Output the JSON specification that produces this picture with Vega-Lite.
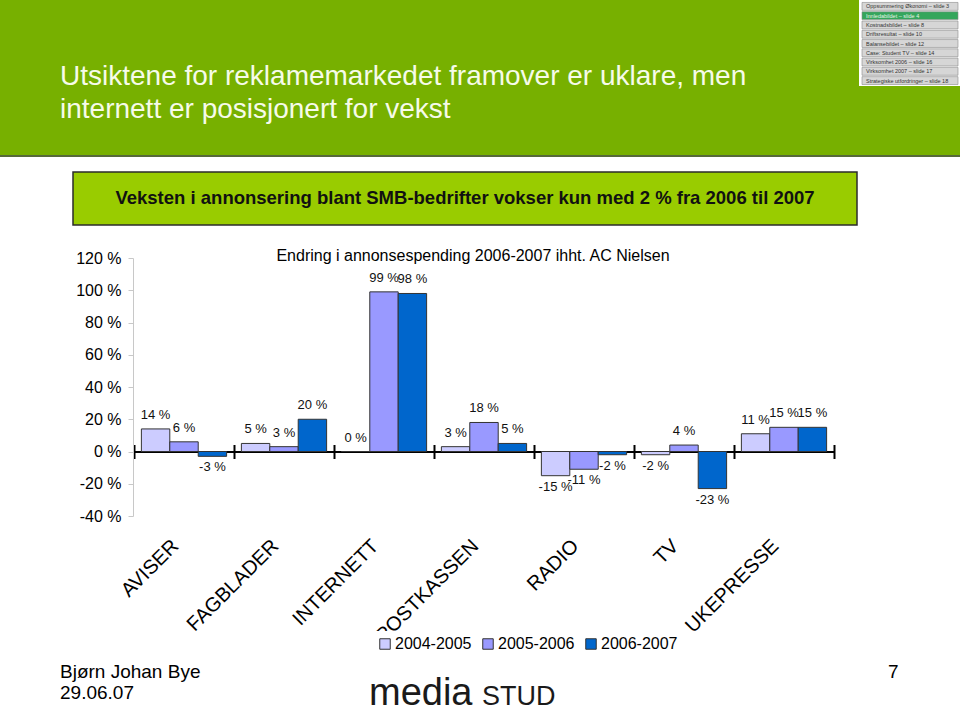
{
 "$schema": "https://vega.github.io/schema/vega-lite/v6.json",
 "width": 960,
 "height": 720,
 "autosize": {"type": "none"},
 "padding": 0,
 "background": "#ffffff",
 "config": {"view": {"stroke": null}, "font": "Liberation Sans"},
 "resolve": {"scale": {"x": "independent", "y": "independent"}},
 "layer": [
  {
   "data": {"values": [{}]},
   "layer": [
    {"mark": {"type": "rect", "fill": "#77b000"},
     "encoding": {"x": {"datum": 0, "type": "quantitative", "scale": {"domain": [0, 960], "range": [0, 960], "nice": false, "zero": false}, "axis": null}, "x2": {"datum": 960},
                  "y": {"datum": 0, "type": "quantitative", "scale": {"domain": [0, 720], "range": [0, 720], "nice": false, "zero": false}, "axis": null}, "y2": {"datum": 155}}},
    {"mark": {"type": "rect", "fill": "#56693a"},
     "encoding": {"x": {"datum": 0, "type": "quantitative", "scale": {"domain": [0, 960], "range": [0, 960], "nice": false, "zero": false}, "axis": null}, "x2": {"datum": 960},
                  "y": {"datum": 155, "type": "quantitative", "scale": {"domain": [0, 720], "range": [0, 720], "nice": false, "zero": false}, "axis": null}, "y2": {"datum": 157}}},
    {"mark": {"type": "rect", "fill": "#ffffff"},
     "encoding": {"x": {"datum": 859, "type": "quantitative", "scale": {"domain": [0, 960], "range": [0, 960], "nice": false, "zero": false}, "axis": null}, "x2": {"datum": 960},
                  "y": {"datum": 0, "type": "quantitative", "scale": {"domain": [0, 720], "range": [0, 720], "nice": false, "zero": false}, "axis": null}, "y2": {"datum": 86}}},
    {"mark": {"type": "text", "text": ["Utsiktene for reklamemarkedet framover er uklare, men", "internett er posisjonert for vekst"], "fontSize": 28, "lineHeight": 33, "align": "left", "baseline": "alphabetic", "fill": "#f6fbe9"},
     "encoding": {"x": {"datum": 60, "type": "quantitative", "scale": {"domain": [0, 960], "range": [0, 960], "nice": false, "zero": false}, "axis": null},
                  "y": {"datum": 85, "type": "quantitative", "scale": {"domain": [0, 720], "range": [0, 720], "nice": false, "zero": false}, "axis": null}}},
    {"mark": {"type": "rect", "fill": "#99cc00", "stroke": "#2b2b2b", "strokeWidth": 1.5},
     "encoding": {"x": {"datum": 73, "type": "quantitative", "scale": {"domain": [0, 960], "range": [0, 960], "nice": false, "zero": false}, "axis": null}, "x2": {"datum": 857},
                  "y": {"datum": 172, "type": "quantitative", "scale": {"domain": [0, 720], "range": [0, 720], "nice": false, "zero": false}, "axis": null}, "y2": {"datum": 225}}},
    {"mark": {"type": "text", "text": "Veksten i annonsering blant SMB-bedrifter vokser kun med 2 % fra 2006 til 2007", "fontSize": 18.5, "fontWeight": "bold", "align": "center", "baseline": "middle", "fill": "#111111"},
     "encoding": {"x": {"datum": 465, "type": "quantitative", "scale": {"domain": [0, 960], "range": [0, 960], "nice": false, "zero": false}, "axis": null},
                  "y": {"datum": 198, "type": "quantitative", "scale": {"domain": [0, 720], "range": [0, 720], "nice": false, "zero": false}, "axis": null}}},
    {"mark": {"type": "text", "text": "Endring i annonsespending 2006-2007 ihht. AC Nielsen", "fontSize": 16, "align": "center", "baseline": "middle", "fill": "#000000"},
     "encoding": {"x": {"datum": 473, "type": "quantitative", "scale": {"domain": [0, 960], "range": [0, 960], "nice": false, "zero": false}, "axis": null},
                  "y": {"datum": 256, "type": "quantitative", "scale": {"domain": [0, 720], "range": [0, 720], "nice": false, "zero": false}, "axis": null}}},
    {"mark": {"type": "text", "text": ["Bjørn Johan Bye", "29.06.07"], "fontSize": 19, "lineHeight": 21, "align": "left", "baseline": "middle", "fill": "#000000"},
     "encoding": {"x": {"datum": 60, "type": "quantitative", "scale": {"domain": [0, 960], "range": [0, 960], "nice": false, "zero": false}, "axis": null},
                  "y": {"datum": 672, "type": "quantitative", "scale": {"domain": [0, 720], "range": [0, 720], "nice": false, "zero": false}, "axis": null}}},
    {"mark": {"type": "text", "text": "7", "fontSize": 19, "align": "left", "baseline": "middle", "fill": "#000000"},
     "encoding": {"x": {"datum": 888, "type": "quantitative", "scale": {"domain": [0, 960], "range": [0, 960], "nice": false, "zero": false}, "axis": null},
                  "y": {"datum": 672, "type": "quantitative", "scale": {"domain": [0, 720], "range": [0, 720], "nice": false, "zero": false}, "axis": null}}},
    {"mark": {"type": "text", "text": "media", "fontSize": 38, "align": "left", "baseline": "alphabetic", "fill": "#1a1a1a"},
     "encoding": {"x": {"datum": 369, "type": "quantitative", "scale": {"domain": [0, 960], "range": [0, 960], "nice": false, "zero": false}, "axis": null},
                  "y": {"datum": 705, "type": "quantitative", "scale": {"domain": [0, 720], "range": [0, 720], "nice": false, "zero": false}, "axis": null}}},
    {"mark": {"type": "text", "text": "STUD", "fontSize": 27, "align": "left", "baseline": "alphabetic", "fill": "#1a1a1a"},
     "encoding": {"x": {"datum": 482, "type": "quantitative", "scale": {"domain": [0, 960], "range": [0, 960], "nice": false, "zero": false}, "axis": null},
                  "y": {"datum": 705, "type": "quantitative", "scale": {"domain": [0, 720], "range": [0, 720], "nice": false, "zero": false}, "axis": null}}}
   ]
  },
  {
   "data": {"values": [
    {"item": "Oppsummering Økonomi – slide 3", "active": false},
    {"item": "Innledabildet – slide 4", "active": true},
    {"item": "Kostnadsbildet – slide 8", "active": false},
    {"item": "Driftsresultat – slide 10", "active": false},
    {"item": "Balansebildet – slide 12", "active": false},
    {"item": "Case: Student TV – slide 14", "active": false},
    {"item": "Virksomhet 2006 – slide 16", "active": false},
    {"item": "Virksomhet 2007 – slide 17", "active": false},
    {"item": "Strategiske utfordringer – slide 18", "active": false}
   ]},
   "layer": [
    {"mark": {"type": "bar", "stroke": "#8a8a8a", "strokeWidth": 0.6},
     "encoding": {
      "y": {"field": "item", "type": "nominal", "sort": null, "scale": {"range": [2, 85], "paddingInner": 0.15, "paddingOuter": 0.05}, "axis": null},
      "x": {"datum": 862, "type": "quantitative", "scale": {"domain": [0, 960], "range": [0, 960], "nice": false, "zero": false}, "axis": null}, "x2": {"datum": 958},
      "fill": {"condition": {"test": "datum.active", "value": "#35a65c"}, "value": "#d6d6d6"}}},
    {"mark": {"type": "text", "align": "left", "baseline": "middle", "fontSize": 5.5},
     "encoding": {
      "y": {"field": "item", "type": "nominal", "sort": null, "scale": {"range": [2, 85], "paddingInner": 0.15, "paddingOuter": 0.05}, "axis": null},
      "x": {"datum": 866, "type": "quantitative", "scale": {"domain": [0, 960], "range": [0, 960], "nice": false, "zero": false}, "axis": null},
      "text": {"field": "item"},
      "fill": {"condition": {"test": "datum.active", "value": "#e8f5e8"}, "value": "#333333"}}}
   ]
  },
  {
   "data": {"values": [
    {"cat": "AVISER", "series": "2004-2005", "v": 14},
    {"cat": "AVISER", "series": "2005-2006", "v": 6},
    {"cat": "AVISER", "series": "2006-2007", "v": -3},
    {"cat": "FAGBLADER", "series": "2004-2005", "v": 5},
    {"cat": "FAGBLADER", "series": "2005-2006", "v": 3},
    {"cat": "FAGBLADER", "series": "2006-2007", "v": 20},
    {"cat": "INTERNETT", "series": "2004-2005", "v": 0},
    {"cat": "INTERNETT", "series": "2005-2006", "v": 99},
    {"cat": "INTERNETT", "series": "2006-2007", "v": 98},
    {"cat": "POSTKASSEN", "series": "2004-2005", "v": 3},
    {"cat": "POSTKASSEN", "series": "2005-2006", "v": 18},
    {"cat": "POSTKASSEN", "series": "2006-2007", "v": 5},
    {"cat": "RADIO", "series": "2004-2005", "v": -15},
    {"cat": "RADIO", "series": "2005-2006", "v": -11},
    {"cat": "RADIO", "series": "2006-2007", "v": -2},
    {"cat": "TV", "series": "2004-2005", "v": -2},
    {"cat": "TV", "series": "2005-2006", "v": 4},
    {"cat": "TV", "series": "2006-2007", "v": -23},
    {"cat": "UKEPRESSE", "series": "2004-2005", "v": 11},
    {"cat": "UKEPRESSE", "series": "2005-2006", "v": 15},
    {"cat": "UKEPRESSE", "series": "2006-2007", "v": 15}
   ]},
   "resolve": {"axis": {"x": "independent"}},
   "encoding": {
    "xOffset": {"field": "series", "type": "nominal", "sort": null, "scale": {"paddingInner": 0, "paddingOuter": 0.26}},
    "y": {"field": "v", "type": "quantitative",
          "scale": {"domain": [-40, 120], "range": [516, 258], "nice": false, "zero": false},
          "axis": {"orient": "left", "offset": -133, "values": [-40, -20, 0, 20, 40, 60, 80, 100, 120], "labelExpr": "datum.value + ' %'",
                   "domainColor": "#c8c8c8", "tickColor": "#c8c8c8", "tickSize": 5, "labelFontSize": 16, "labelFont": "Liberation Sans",
                   "labelColor": "#000000", "labelPadding": 7, "grid": false, "title": null}}
   },
   "layer": [
    {"mark": {"type": "bar", "stroke": "#333333", "strokeWidth": 1},
     "encoding": {
      "x": {"field": "cat", "type": "nominal", "sort": null, "scale": {"range": [134, 834], "paddingInner": 0, "paddingOuter": 0},
            "axis": {"orient": "bottom", "offset": -268.5, "domainColor": "#000000", "domainWidth": 2, "tickBand": "extent", "tickColor": "#000000",
                     "tickWidth": 2, "tickSize": 7, "labelAngle": -45, "labelAlign": "right", "labelBaseline": "middle", "labelFontSize": 20,
                     "labelFont": "Liberation Sans", "labelColor": "#000000", "labelPadding": 84, "labelOffset": -9, "labelOverlap": false,
                     "labelBound": false, "title": null, "grid": false}},
      "color": {"field": "series", "type": "nominal", "sort": null,
                "scale": {"domain": ["2004-2005", "2005-2006", "2006-2007"], "range": ["#ccccff", "#9999ff", "#0066cc"]},
                "legend": {"orient": "none", "legendX": 372, "legendY": 631, "padding": 5, "fillColor": "#ffffff", "direction": "horizontal", "title": null, "symbolType": "square",
                           "symbolSize": 110, "symbolStrokeColor": "#333333", "symbolStrokeWidth": 1, "symbolOpacity": 1, "labelFontSize": 16,
                           "labelFont": "Liberation Sans", "labelColor": "#000000", "labelOffset": 2, "columnPadding": 8}}}},
    {"transform": [{"filter": "datum.v >= 0"}],
     "mark": {"type": "text", "text": {"expr": "datum.v + ' %'"}, "fontSize": 13, "baseline": "middle", "dy": -14, "fill": "#111111"},
     "encoding": {
      "x": {"field": "cat", "type": "nominal", "sort": null,
            "axis": {"orient": "top", "offset": -451.5, "domain": false, "labels": false, "tickBand": "extent", "tickColor": "#000000",
                     "tickWidth": 2, "tickSize": 7, "title": null, "grid": false}}}},
    {"transform": [{"filter": "datum.v < 0"}],
     "mark": {"type": "text", "text": {"expr": "datum.v + ' %'"}, "fontSize": 13, "baseline": "middle", "dy": 11, "fill": "#111111"},
     "encoding": {
      "x": {"field": "cat", "type": "nominal", "sort": null, "axis": null}}}
   ]
  }
 ]
}
